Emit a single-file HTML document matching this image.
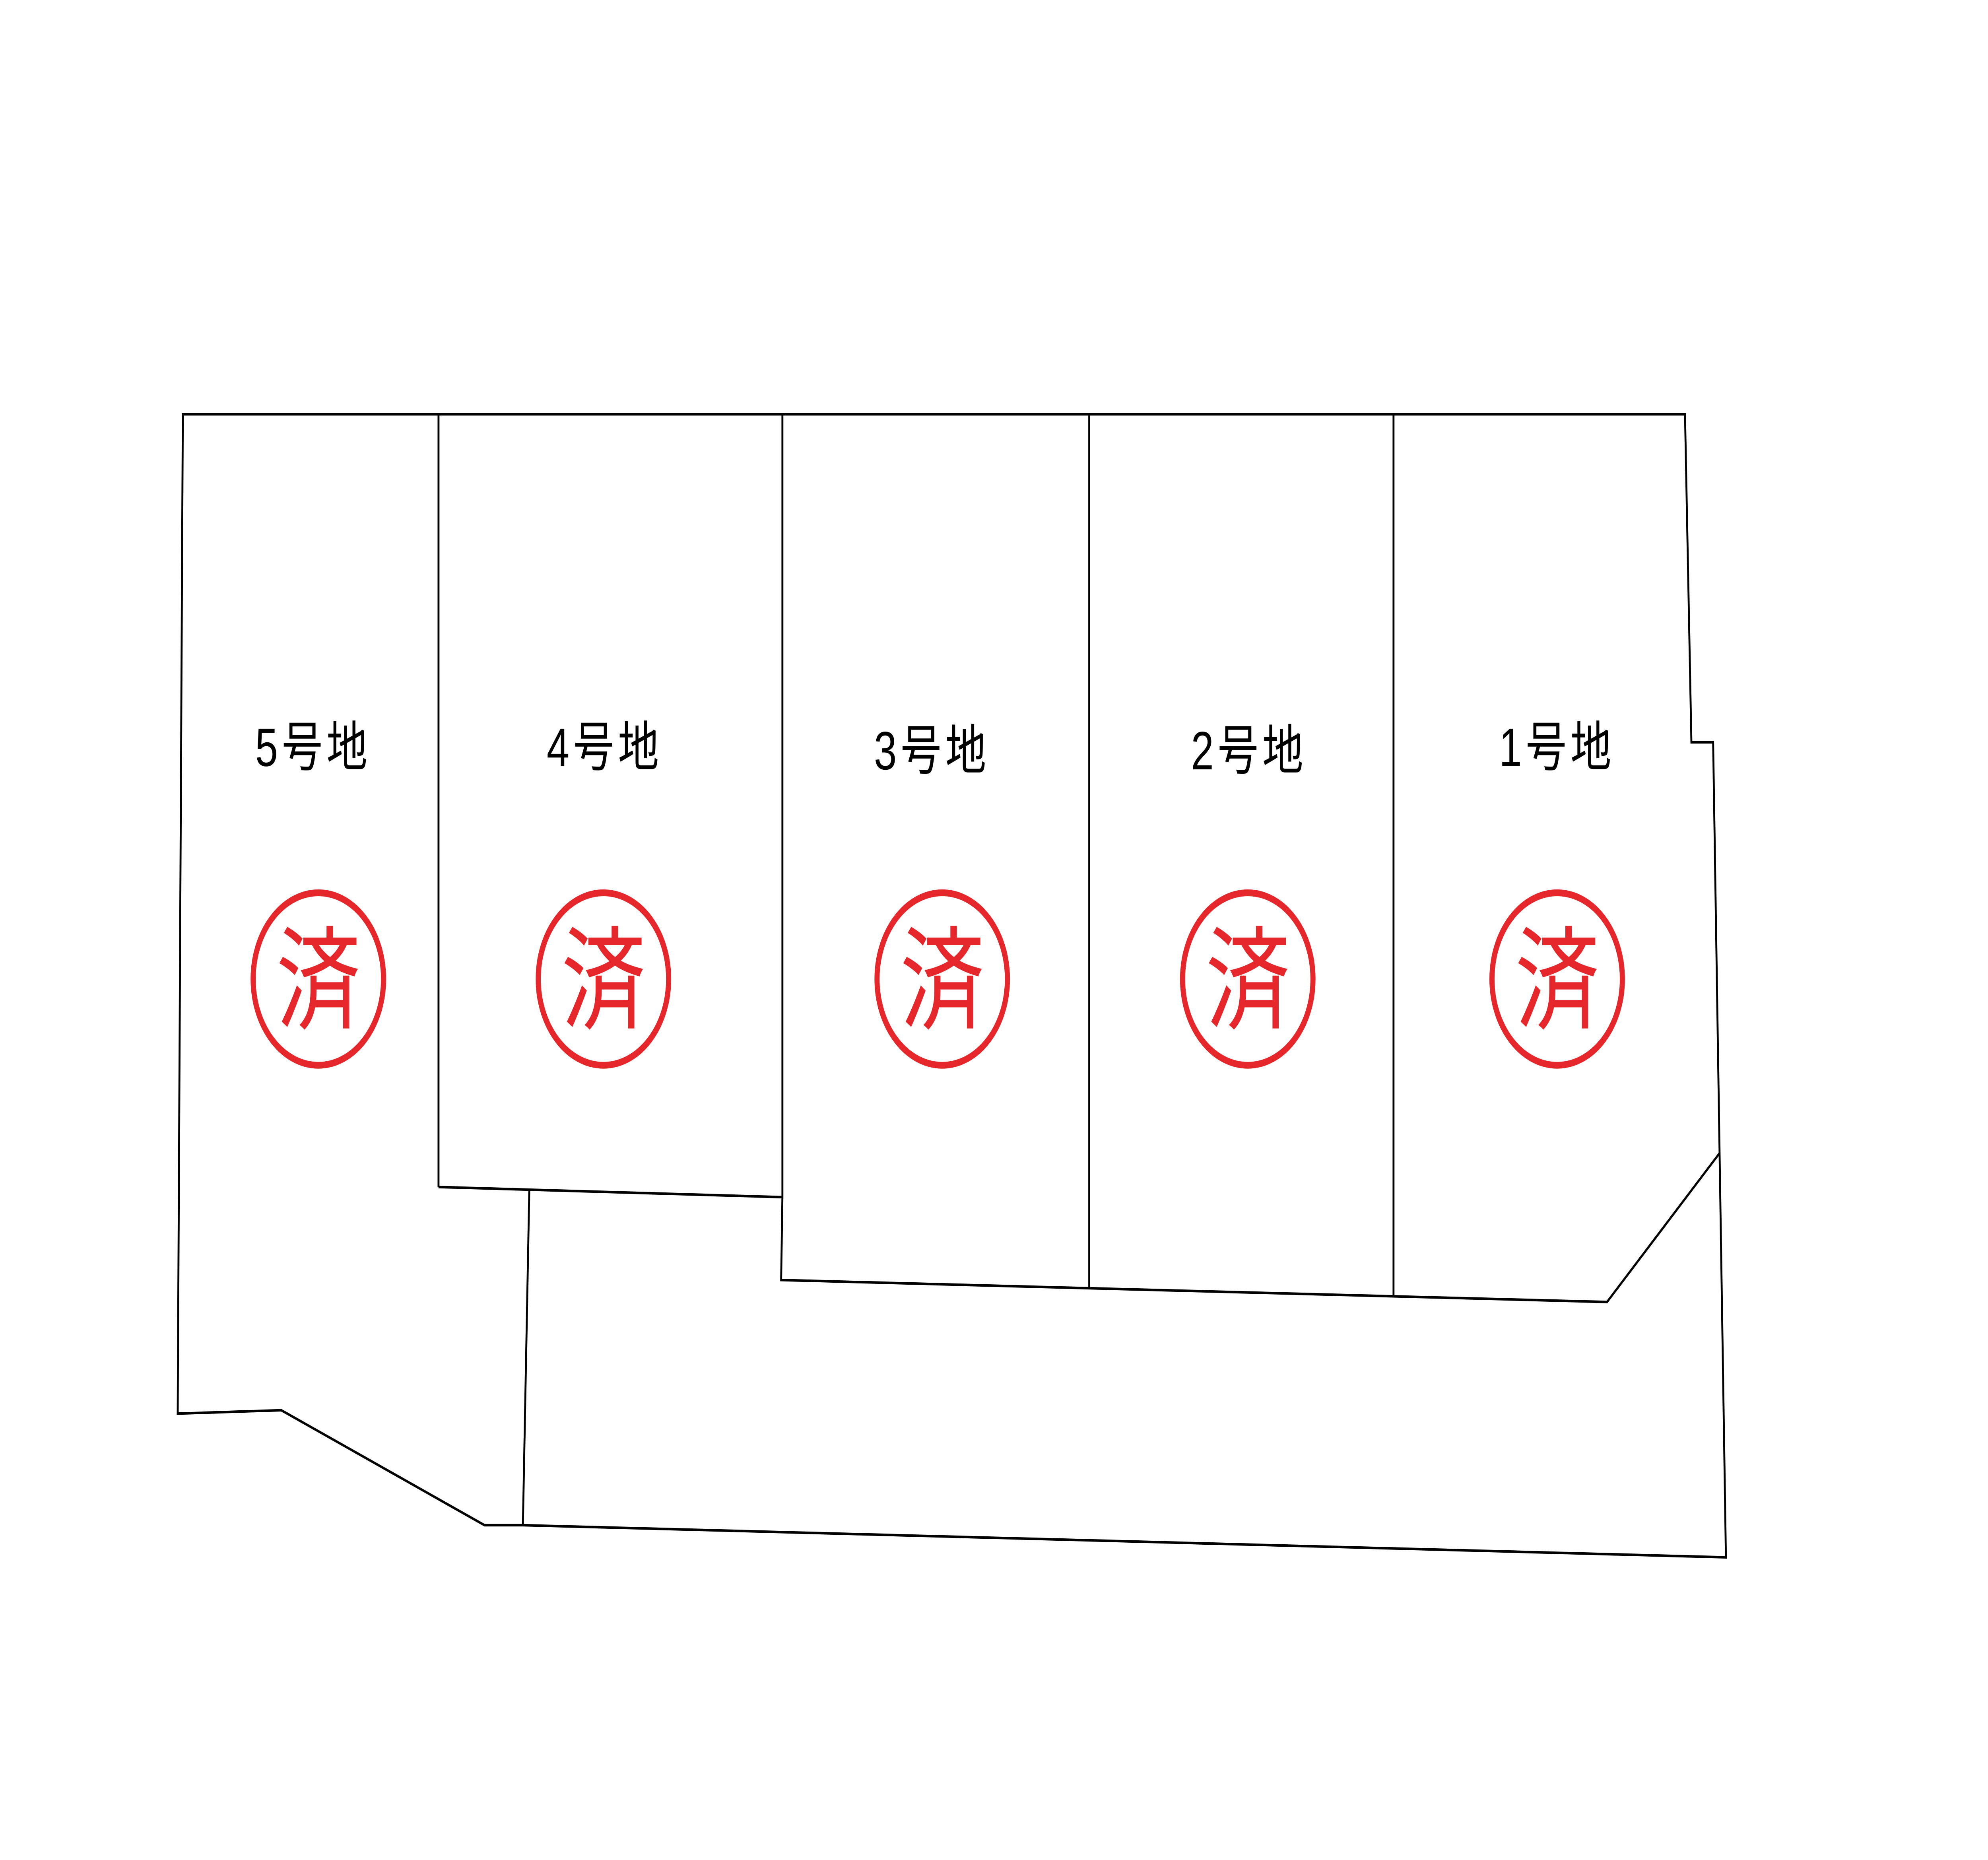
<!DOCTYPE html>
<html><head><meta charset="utf-8"><style>
html,body{margin:0;padding:0;background:#fff;overflow:hidden;width:100%;height:100%;}
svg{display:block;width:100vw;height:100vh;}
</style></head><body>
<svg viewBox="0 0 1555 1100" preserveAspectRatio="none" xmlns="http://www.w3.org/2000/svg">
<rect width="1555" height="1100" fill="#fff"/>
<g fill="none" stroke="#000" stroke-width="1.5" stroke-linejoin="miter">
<polygon points="143,245 1318,245 1323,439 1340,439 1350,921 409,902 379,902 220,834 139,836"/>
<line x1="343" y1="245" x2="343" y2="702"/>
<line x1="343" y1="702" x2="612" y2="708"/>
<polyline points="612,245 612,708 611,757 1257,770 1345,682"/>
<line x1="852" y1="245" x2="852" y2="762"/>
<line x1="1090" y1="245" x2="1090" y2="767"/>
<line x1="414" y1="704" x2="409" y2="902"/>
</g>
<g font-family="'Liberation Sans','Noto Sans CJK JP',sans-serif" font-size="32" fill="#000" text-anchor="middle" letter-spacing="3">
<text x="245" y="453">5号地</text>
<text x="473" y="453">4号地</text>
<text x="729" y="455">3号地</text>
<text x="977" y="455">2号地</text>
<text x="1218" y="453">1号地</text>
</g>
<g fill="none" stroke="#e5262a" stroke-width="4">
<circle cx="249" cy="579" r="51"/>
<circle cx="472" cy="579" r="51"/>
<circle cx="737" cy="579" r="51"/>
<circle cx="976" cy="579" r="51"/>
<circle cx="1218" cy="579" r="51"/>
</g>
<g font-family="'Noto Sans CJK JP',sans-serif" font-size="66" fill="#e5262a" text-anchor="middle">
<text x="249" y="603">済</text>
<text x="472" y="603">済</text>
<text x="737" y="603">済</text>
<text x="976" y="603">済</text>
<text x="1218" y="603">済</text>
</g>
</svg>
</body></html>
